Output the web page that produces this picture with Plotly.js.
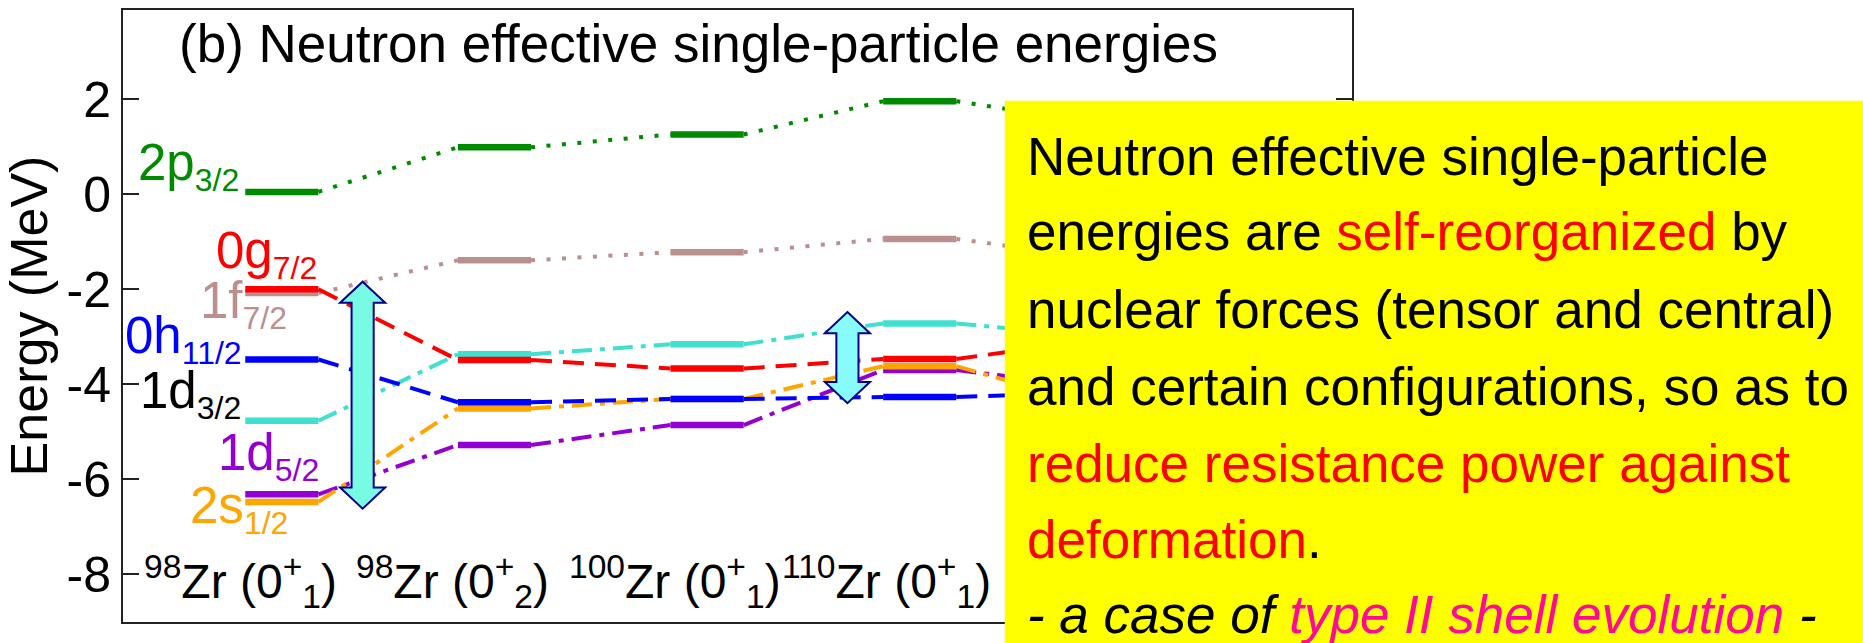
<!DOCTYPE html>
<html>
<head>
<meta charset="utf-8">
<script src="https://cdn.plot.ly/plotly-3.0.1.min.js"></script>
<style>
  html, body { margin: 0; padding: 0; background: #fff; }
  #chart { width: 1863px; height: 643px; }
</style>
</head>
<body>
<div id="chart"></div>
<script>
// Nuclear states, one column each (x = 0, 1, 2, ...)
const stateLabels = [
  '<sup>98</sup>Zr (0<sup>+</sup><sub>1</sub>)',
  '<sup>98</sup>Zr (0<sup>+</sup><sub>2</sub>)',
  '<sup>100</sup>Zr (0<sup>+</sup><sub>1</sub>)',
  '<sup>110</sup>Zr (0<sup>+</sup><sub>1</sub>)'
];

// Neutron effective single-particle energies (MeV) per column;
// the fifth column sits beneath the note panel.
const E_2p32  = [ 0.05,  0.99,  1.26,  1.96,  1.51];
const E_1f72  = [-2.08, -1.39, -1.22, -0.94, -1.34];
const E_0g72  = [-2.00, -3.49, -3.67, -3.47, -3.06];
const E_0h112 = [-3.48, -4.38, -4.31, -4.27, -4.17];
const E_1d32  = [-4.77, -3.37, -3.16, -2.72, -3.00];
const E_1d52  = [-6.32, -5.28, -4.86, -3.70, -4.06];
const E_2s12  = [-6.48, -4.51, -4.31, -3.62, -4.46];

// Orbital names: [orbital, j]
const orbitalNames = [['2p', '3/2'], ['1f', '7/2'], ['0g', '7/2'], ['0h', '11/2'],
                      ['1d', '3/2'], ['1d', '5/2'], ['2s', '1/2']];

// Y axis ticks
const yTickVals = [-8, -6, -4, -2, 0, 2];
const yTickText = ['-8', '-6', '-4', '-2', '0', '2'];

// Gap arrows: column position and energy span (MeV)
const gapArrowX      = [0.38, 2.66];
const gapArrowTop    = [-1.84, -2.48];
const gapArrowBottom = [-6.62, -4.40];

// ---------------------------------------------------------------
const FONT = 'Liberation Sans, Arial, Helvetica, sans-serif';
const W = 1863, H = 643;
const L = 123, R = 1352.3, T = 10, B = 621.7;   // plot frame in page pixels
const px = x => (x - L) / (R - L);               // page pixel -> paper x
const py = y => (B - y) / (B - T);               // page pixel -> paper y
const HALF = 0.172;                              // half-length of a level bar

const DOT = '4px,11.5px';
const DASH = '21px,11px';
const DASHDOT = '20px,8px,5px,8px';

// drawing order (later on top)
const orbitals = [
  { E: E_2p32,  color: '#008a00', dash: DOT },
  { E: E_1f72,  color: '#bc8f8f', dash: DOT },
  { E: E_1d52,  color: '#9400d3', dash: DASHDOT },
  { E: E_2s12,  color: '#ffa500', dash: DASHDOT },
  { E: E_1d32,  color: '#40e0d0', dash: DASHDOT },
  { E: E_0g72,  color: '#ff0000', dash: DASH },
  { E: E_0h112, color: '#0000ff', dash: DASH }
];

const traces = [];
orbitals.forEach(o => {
  const bx = [], by = [], cx = [], cy = [];
  o.E.forEach((e, i) => {
    bx.push(i - HALF, i + HALF, null);
    by.push(e, e, null);
    if (i < o.E.length - 1) {
      cx.push(i + HALF, i + 1 - HALF, null);
      cy.push(e, o.E[i + 1], null);
    }
  });
  traces.push({ x: cx, y: cy, type: 'scatter', mode: 'lines',
                line: { color: o.color, width: 4, dash: o.dash },
                hoverinfo: 'skip', showlegend: false });
  traces.push({ x: bx, y: by, type: 'scatter', mode: 'lines',
                line: { color: o.color, width: 6.5 },
                hoverinfo: 'skip', showlegend: false });
});

// double-headed block arrows
function blockArrow(cx, top, bottom) {
  const hw = 0.106, sw = 0.052, hh = 0.445;
  const p = [
    [cx, top], [cx + hw, top - hh], [cx + sw, top - hh], [cx + sw, bottom + hh],
    [cx + hw, bottom + hh], [cx, bottom], [cx - hw, bottom + hh], [cx - sw, bottom + hh],
    [cx - sw, top - hh], [cx - hw, top - hh]
  ];
  return 'M' + p.map(q => q[0] + ',' + q[1]).join(' L') + ' Z';
}
const arrowFills = ['#78fbe3', '#88fcfc'];
const shapes = gapArrowX.map((x, i) => ({
  type: 'path', xref: 'x', yref: 'y', layer: 'above',
  path: blockArrow(x, gapArrowTop[i], gapArrowBottom[i]),
  fillcolor: arrowFills[i], line: { color: '#00008b', width: 2 }
}));
// note panel
shapes.push({ type: 'rect', xref: 'paper', yref: 'paper', layer: 'above',
  x0: px(1005), x1: px(W + 20), y0: py(H + 20), y1: py(100.7),
  fillcolor: '#ffff00', line: { width: 0 } });

const annotations = [];
function addText(text, xPix, baseline, size, color, k) {
  if (k === undefined) k = 0.3465;
  annotations.push({
    text, xref: 'paper', yref: 'paper', x: px(xPix), y: py(baseline - k * size),
    xanchor: 'left', yanchor: 'middle', showarrow: false, borderpad: 0,
    font: { family: FONT, size, color }
  });
}

// panel title inside the frame
addText('(b) Neutron effective single-particle energies', 178, 62, 53, '#000');

// orbital labels beside the first column
const labelColors = ['#008a00', '#bc8f8f', '#ff0000', '#0000ff', '#000000', '#9400d3', '#ffa500'];
const labelPos = [[137, 180], [199, 318], [215, 268], [124, 353], [139, 408], [217, 470], [189, 523]];
orbitalNames.forEach((n, i) => addText(
  n[0] + '<sub><span style="font-size:32px">' + n[1] + '</span></sub>',
  labelPos[i][0], labelPos[i][1], 51, labelColors[i], 0.28));

// state labels along the bottom
stateLabels.forEach((t, i) => {
  annotations.push({
    text: t, xref: 'x', yref: 'paper', x: i, xshift: -139, y: py(598 - 0.348 * 48),
    xanchor: 'left', yanchor: 'middle', showarrow: false, borderpad: 0,
    font: { family: FONT, size: 48, color: '#000' }
  });
});

// note text
const RED = '#ff0000', PINK = '#ff0a96';
const noteLines = [
  'Neutron effective single-particle',
  'energies are <span style="color:' + RED + '">self-reorganized</span> by',
  'nuclear forces (tensor and central)',
  'and certain configurations, so as to',
  '<span style="color:' + RED + '">reduce resistance power against</span>',
  '<span style="color:' + RED + '">deformation</span>.',
  '<i>- a case of <span style="color:' + PINK + '">type II shell evolution</span> -</i>'
];
const noteBaselines = [175, 250, 328, 405, 482, 558, 633];
noteLines.forEach((t, i) => addText(t, 1026, noteBaselines[i], 53, '#000'));

const layout = {
  width: W, height: H,
  margin: { l: L, r: W - R, t: T, b: H - B, pad: 0 },
  paper_bgcolor: '#ffffff', plot_bgcolor: '#ffffff',
  font: { family: FONT, color: '#000' },
  xaxis: {
    range: [-0.747, 5.033], showgrid: false, zeroline: false, showticklabels: false,
    ticks: '', showline: true, mirror: true, linecolor: '#222', linewidth: 2, fixedrange: true
  },
  yaxis: {
    range: [-9.008, 3.881], tickvals: yTickVals, ticktext: yTickText,
    ticks: 'inside', ticklen: 16, tickwidth: 2, tickcolor: '#222',
    showline: true, mirror: 'ticks', linecolor: '#222', linewidth: 2,
    showgrid: false, zeroline: false, fixedrange: true,
    tickfont: { family: FONT, size: 50, color: '#000' },
    title: { text: 'Energy (MeV)', font: { family: FONT, size: 52, color: '#000' } }
  },
  shapes, annotations
};

Plotly.newPlot('chart', traces, layout, { displayModeBar: false, staticPlot: true });
</script>
</body>
</html>
